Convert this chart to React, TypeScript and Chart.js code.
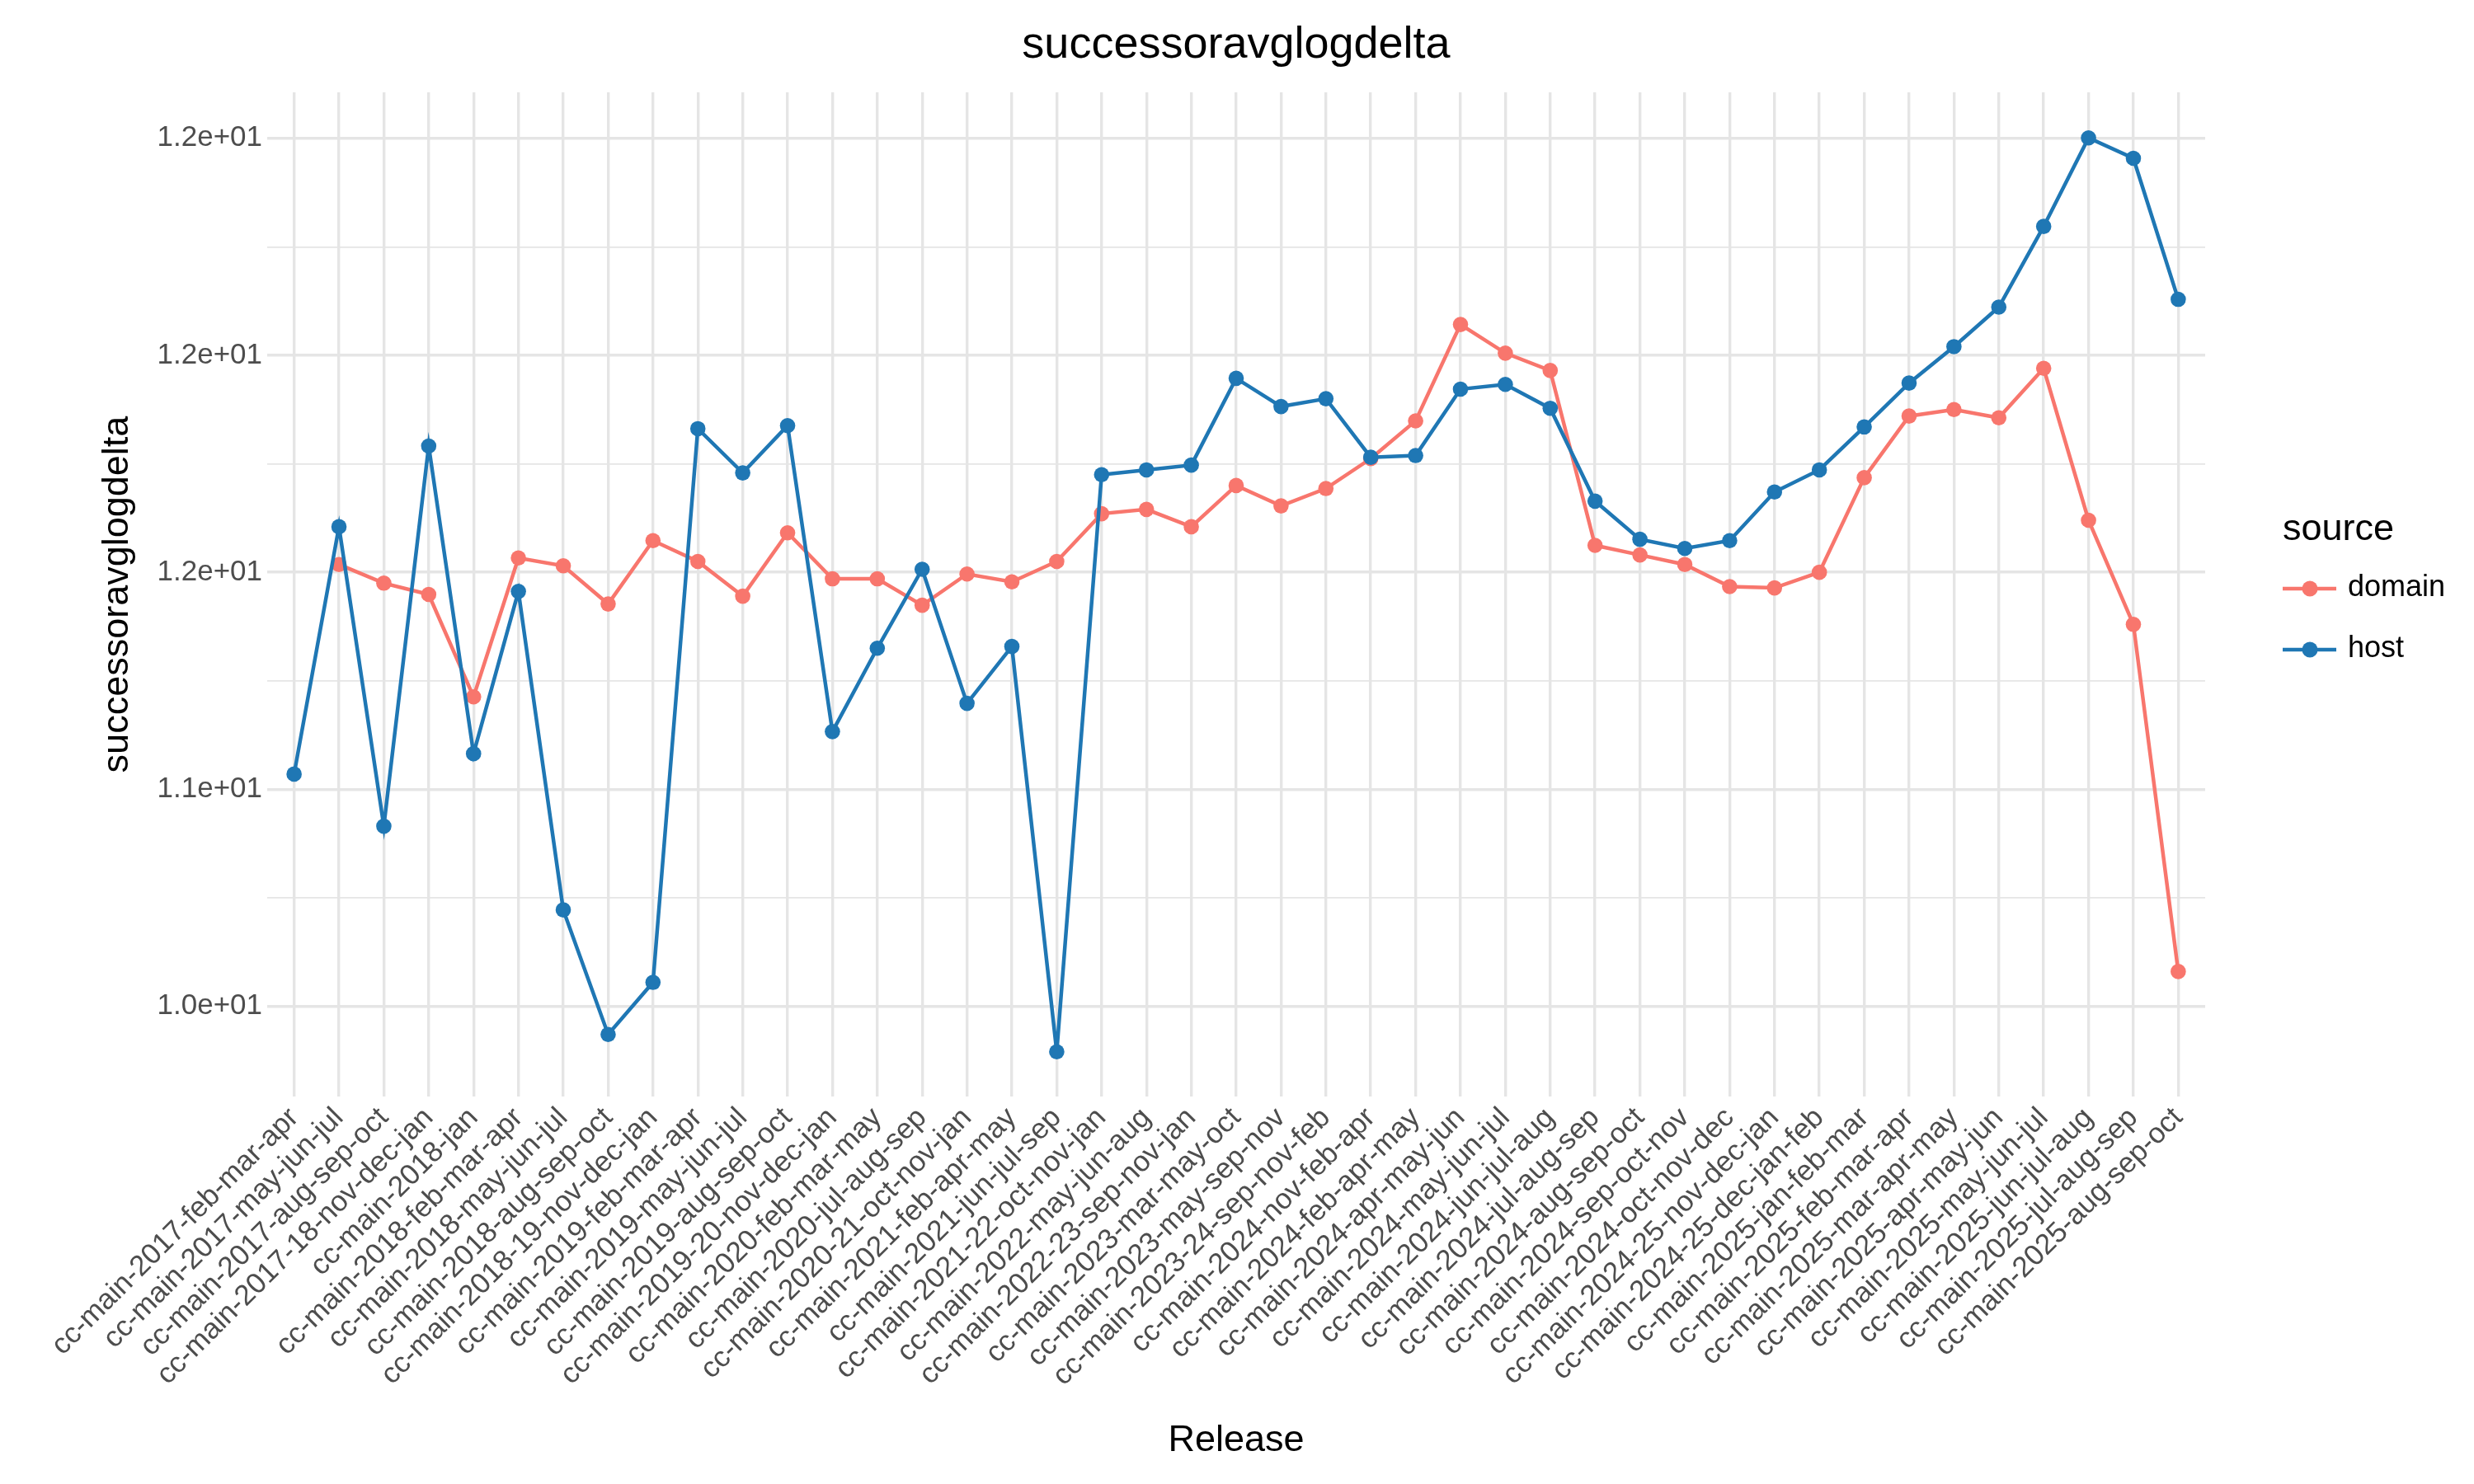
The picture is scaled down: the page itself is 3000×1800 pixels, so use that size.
import React, { useEffect, useRef } from 'react';
import { Chart, registerables } from 'chart.js';

Chart.register(...registerables);

const releases = [
  'cc-main-2017-feb-mar-apr',
  'cc-main-2017-may-jun-jul',
  'cc-main-2017-aug-sep-oct',
  'cc-main-2017-18-nov-dec-jan',
  'cc-main-2018-jan',
  'cc-main-2018-feb-mar-apr',
  'cc-main-2018-may-jun-jul',
  'cc-main-2018-aug-sep-oct',
  'cc-main-2018-19-nov-dec-jan',
  'cc-main-2019-feb-mar-apr',
  'cc-main-2019-may-jun-jul',
  'cc-main-2019-aug-sep-oct',
  'cc-main-2019-20-nov-dec-jan',
  'cc-main-2020-feb-mar-may',
  'cc-main-2020-jul-aug-sep',
  'cc-main-2020-21-oct-nov-jan',
  'cc-main-2021-feb-apr-may',
  'cc-main-2021-jun-jul-sep',
  'cc-main-2021-22-oct-nov-jan',
  'cc-main-2022-may-jun-aug',
  'cc-main-2022-23-sep-nov-jan',
  'cc-main-2023-mar-may-oct',
  'cc-main-2023-may-sep-nov',
  'cc-main-2023-24-sep-nov-feb',
  'cc-main-2024-nov-feb-apr',
  'cc-main-2024-feb-apr-may',
  'cc-main-2024-apr-may-jun',
  'cc-main-2024-may-jun-jul',
  'cc-main-2024-jun-jul-aug',
  'cc-main-2024-jul-aug-sep',
  'cc-main-2024-aug-sep-oct',
  'cc-main-2024-sep-oct-nov',
  'cc-main-2024-oct-nov-dec',
  'cc-main-2024-25-nov-dec-jan',
  'cc-main-2024-25-dec-jan-feb',
  'cc-main-2025-jan-feb-mar',
  'cc-main-2025-feb-mar-apr',
  'cc-main-2025-mar-apr-may',
  'cc-main-2025-apr-may-jun',
  'cc-main-2025-may-jun-jul',
  'cc-main-2025-jun-jul-aug',
  'cc-main-2025-jul-aug-sep',
  'cc-main-2025-aug-sep-oct',
];

const domainValues: (number | null)[] = [
  null, 11.518, 11.475, 11.449, 11.213, 11.533, 11.515, 11.427, 11.573, 11.525,
  11.445, 11.591, 11.485, 11.485, 11.424, 11.496, 11.478, 11.525, 11.635, 11.645,
  11.605, 11.700, 11.653, 11.693, 11.762, 11.849, 12.071, 12.005, 11.965, 11.562,
  11.540, 11.518, 11.467, 11.464, 11.500, 11.718, 11.860, 11.875, 11.856, 11.970,
  11.620, 11.380, 10.580,
];

const hostValues: (number | null)[] = [
  11.035, 11.605, 10.915, 11.791, 11.082, 11.456, 10.722, 10.435, 10.555, 11.831,
  11.729, 11.838, 11.133, 11.325, 11.507, 11.198, 11.329, 10.395, 11.725, 11.736,
  11.747, 11.947, 11.882, 11.900, 11.765, 11.769, 11.922, 11.933, 11.878, 11.664,
  11.576, 11.555, 11.573, 11.685, 11.736, 11.835, 11.936, 12.020, 12.111, 12.297,
  12.501, 12.454, 12.129,
];

const yTickValues = [10.5, 11.0, 11.5, 12.0, 12.5];
const yTickLabels = ['1.0e+01', '1.1e+01', '1.2e+01', '1.2e+01', '1.2e+01'];
const yMinorValues = [10.75, 11.25, 11.75, 12.25];

const seriesNames = ['domain', 'host'];
const seriesColors = ['#F8766D', '#1F77B4'];

const chartTitle = 'successoravglogdelta';
const xAxisTitle = 'Release';
const yAxisTitle = 'successoravglogdelta';
const legendTitle = 'source';

const FONT = '"Liberation Sans", Arial, Helvetica, sans-serif';
const GRID = '#E5E5E5';

const toPoints = (vals: (number | null)[]) =>
  vals
    .map((y, i) => (y == null ? null : { x: i, y }))
    .filter((p) => p !== null) as { x: number; y: number }[];

const textPlugin = {
  id: 'ggText',
  afterDraw(chart: any) {
    const { ctx, chartArea } = chart;
    const cx = (chartArea.left + chartArea.right) / 2;
    const cy = (chartArea.top + chartArea.bottom) / 2;
    ctx.save();
    ctx.fillStyle = '#000000';
    ctx.textAlign = 'center';
    ctx.textBaseline = 'alphabetic';
    ctx.font = `54px ${FONT}`;
    ctx.fillText(chartTitle, cx, 70);
    ctx.font = `45px ${FONT}`;
    ctx.fillText(xAxisTitle, cx, 1760);

    ctx.save();
    ctx.translate(155, cy);
    ctx.rotate(-Math.PI / 2);
    ctx.fillText(yAxisTitle, 0, 0);
    ctx.restore();

    // legend
    ctx.textAlign = 'left';
    ctx.font = `45px ${FONT}`;
    ctx.fillText(legendTitle, 2768, 655);
    chart.data.datasets.forEach((ds: any, i: number) => {
      const y = 714 + i * 74;
      ctx.strokeStyle = ds.borderColor;
      ctx.lineWidth = 4.5;
      ctx.beginPath();
      ctx.moveTo(2768, y);
      ctx.lineTo(2833, y);
      ctx.stroke();
      ctx.fillStyle = ds.borderColor;
      ctx.beginPath();
      ctx.arc(2801, y, 9.5, 0, Math.PI * 2);
      ctx.fill();
      ctx.fillStyle = '#000000';
      ctx.font = `36px ${FONT}`;
      ctx.fillText(ds.label, 2847, y + 9);
    });
    ctx.restore();
  },
};

export default function App() {
  const ref = useRef<HTMLCanvasElement>(null);

  useEffect(() => {
    if (!ref.current) return;
    const seriesValues = [domainValues, hostValues];
    const chart = new Chart(ref.current, {
      type: 'line',
      data: {
        datasets: seriesNames.map((name, i) => ({
          label: name,
          data: toPoints(seriesValues[i]),
          borderColor: seriesColors[i],
          backgroundColor: seriesColors[i],
          pointBackgroundColor: seriesColors[i],
          pointBorderWidth: 0,
          pointRadius: 9.3,
          borderWidth: 4.5,
          tension: 0,
          fill: false,
          order: seriesNames.length - 1 - i,
        })),
      },
      options: {
        animation: false,
        responsive: false,
        devicePixelRatio: 1,
        layout: { padding: { left: 0, top: 112, right: 326, bottom: 0 } },
        plugins: {
          legend: { display: false },
          title: { display: false },
          tooltip: { enabled: false },
        },
        scales: {
          x: {
            type: 'linear',
            min: -0.6,
            max: releases.length - 1 + 0.6,
            afterBuildTicks: (scale: any) => {
              scale.ticks = releases.map((_, i) => ({ value: i }));
            },
            afterFit: (scale: any) => {
              scale.height = 470;
            },
            grid: { color: GRID, lineWidth: 3.4, drawTicks: false },
            border: { display: false },
            ticks: {
              autoSkip: false,
              minRotation: 45,
              maxRotation: 45,
              padding: 8,
              color: '#4D4D4D',
              font: { family: FONT, size: 35, lineHeight: 1.0 },
              callback: (v: any) => releases[Math.round(Number(v))] ?? '',
            },
          },
          y: {
            type: 'linear',
            min: 10.292,
            max: 12.606,
            afterBuildTicks: (scale: any) => {
              scale.ticks = [...yTickValues, ...yMinorValues]
                .sort((a, b) => a - b)
                .map((v) => ({ value: v }));
            },
            afterFit: (scale: any) => {
              scale.width = 324;
            },
            grid: {
              color: GRID,
              lineWidth: (ctx: any) =>
                ctx.tick && yTickValues.includes(ctx.tick.value) ? 3.4 : 1.7,
              drawTicks: false,
            },
            border: { display: false },
            ticks: {
              padding: 6,
              color: '#4D4D4D',
              font: { family: FONT, size: 35 },
              callback: (v: any) => {
                const idx = yTickValues.indexOf(Number(v));
                return idx >= 0 ? yTickLabels[idx] : '';
              },
            },
          },
        },
      },
      plugins: [textPlugin],
    } as any);
    return () => chart.destroy();
  }, []);

  return (
    <div
      style={{
        position: 'absolute',
        left: 0,
        top: 0,
        width: 3000,
        height: 1800,
        background: '#ffffff',
      }}
    >
      <canvas
        ref={ref}
        width={3000}
        height={1800}
        style={{ display: 'block', width: 3000, height: 1800 }}
      />
    </div>
  );
}
